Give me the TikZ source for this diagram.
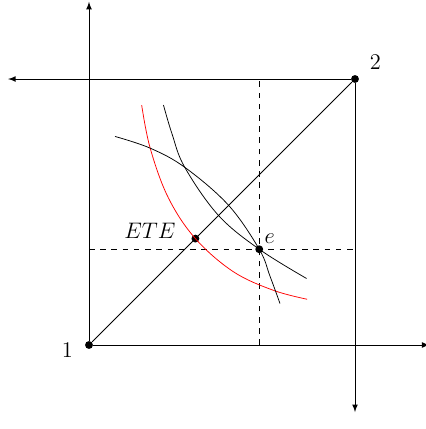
\documentclass[tikz,border=0pt]{standalone}
\usepackage{amsmath}
\usepackage{xcolor}
\usepackage{tikz}
\usetikzlibrary{arrows,positioning}

\begin{document}
\begin{tikzpicture}[>=latex, thin]
    % Stili
    \tikzstyle{punto}=[circle, fill=black, inner sep=0pt, minimum size=4.2pt]
    \tikzstyle{asse}=[->]
    \tikzstyle{guida}=[dashed]
    \tikzstyle{curva}=[smooth, tension=0.6]
    \useasboundingbox (-1.673,-1.579) rectangle (6.316,6.485);

    % Origini e punti
    \node (o1) [punto] at (0,0) {};
    \node (o2) [punto] at (5,5) {};
    \node (ete) [punto] at (2,2) {};
    \node (e) [punto] at (3.2,1.8) {};
    \coordinate (x1) at (6.4,0);
    \coordinate (y1) at (0,6.45);
    \coordinate (x2) at (-1.52,5);
    \coordinate (y2) at (5,-1.26);

    % Assi
    \draw [asse] (o1) -- (x1);
    \draw [asse] (o1) -- (y1);
    \draw [asse] (o2) -- (x2);
    \draw [asse] (o2) -- (y2);
    \draw (o1) -- (o2);
    \draw [guida] (e |- o1) -- (e |- o2);
    \draw [guida] (e -| o1) -- (e -| o2);

    % Curve
    \draw [red] plot[curva] coordinates {(0.99,4.51) (1.15,3.70) (1.49,2.77) (2,2) (2.71,1.38) (3.46,1.03) (4.1,0.86)};
    \draw plot[curva] coordinates {(1.40,4.51) (1.56,3.97) (1.80,3.34) (2.43,2.44) (3.2,1.8) (4.09,1.25)};
    \draw plot[curva] coordinates {(0.49,3.92) (1.15,3.70) (1.80,3.34) (2.62,2.63) (3.2,1.8) (3.40,1.30) (3.59,0.78)};

    % Etichette
    \node (lab1) [left=0.1cm of o1, yshift=-0.1cm] {\large 1};
    \node (lab2) [above right=0cm and 0.1cm of o2] {\large 2};
    \node (labete) [left=0.17cm of ete, yshift=0.15cm] {\large $ETE$};
    \node (labe) [above right=0pt of e, inner sep=1pt] {\large $e$};
\end{tikzpicture}
\end{document}
